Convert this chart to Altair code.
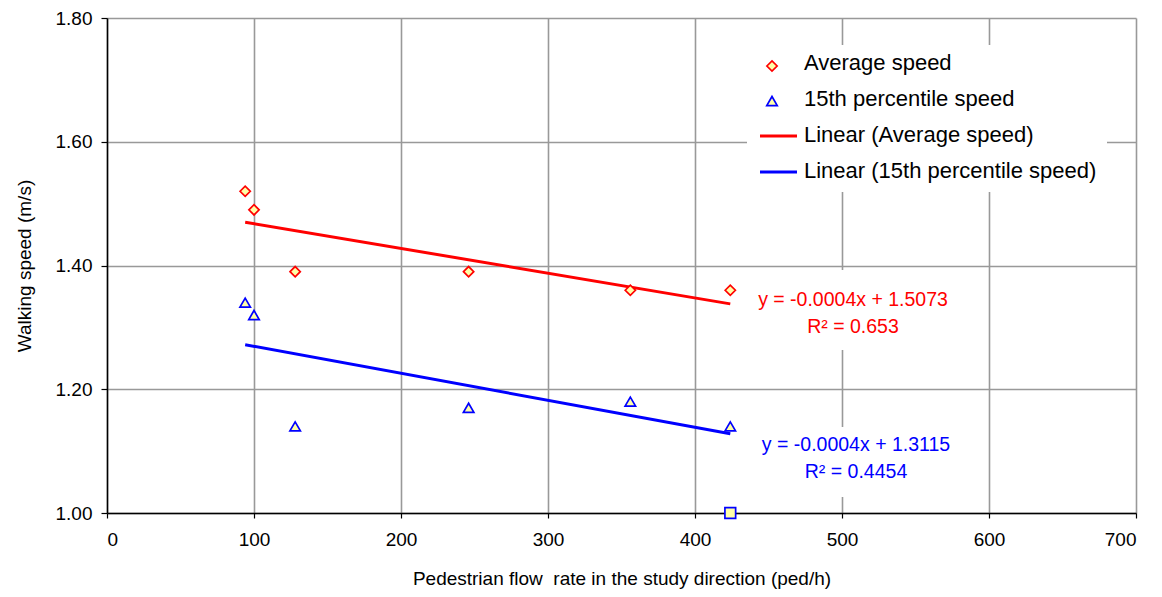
import altair as alt
import pandas as pd

# ---- data ----
flow = [94, 100, 128, 246, 356, 424]
avg_speed = [1.52, 1.49, 1.39, 1.39, 1.36, 1.36]
p15_speed = [1.34, 1.32, 1.14, 1.17, 1.18, 1.14]

trend_x = [94, 424]
avg_trend_y = [1.470, 1.338]
p15_trend_y = [1.272, 1.128]

extra_x = [424]
extra_y = [1.00]

x_ticks = [0, 100, 200, 300, 400, 500, 600, 700]
y_ticks = [1.0, 1.2, 1.4, 1.6, 1.8]

legend_labels = ["Average speed", "15th percentile speed",
                 "Linear (Average speed)", "Linear (15th percentile speed)"]
eq_avg = ["y = -0.0004x + 1.5073", "R\u00b2 = 0.653"]
eq_p15 = ["y = -0.0004x + 1.3115", "R\u00b2 = 0.4454"]

FONT = "Liberation Sans"
RED = "#FF0000"
BLUE = "#0000FF"
FILL = "#FFFFA8"

W, H = 1029, 495

xs = alt.Scale(domain=[0, 700], nice=False, zero=False)
ys = alt.Scale(domain=[1.0, 1.8], nice=False, zero=False)

pts = pd.DataFrame({"flow": flow, "avg": avg_speed, "p15": p15_speed})
trend = pd.DataFrame({"x": trend_x, "a": avg_trend_y, "b": p15_trend_y})
extra = pd.DataFrame({"x": extra_x, "y": extra_y})

xaxis = alt.Axis(values=x_ticks, title="Pedestrian flow\u00a0 rate in the study direction (ped/h)",
                 grid=True, tickSize=5, labelPadding=12, titlePadding=20)
yaxis = alt.Axis(values=y_ticks, format=".2f", title="Walking speed (m/s)",
                 grid=True, tickSize=6, labelPadding=9, titlePadding=21)

base_x = alt.X("x:Q", scale=xs, axis=xaxis)

avg_line = alt.Chart(trend).mark_line(color=RED, strokeWidth=3).encode(
    x=base_x, y=alt.Y("a:Q", scale=ys, axis=yaxis))
p15_line = alt.Chart(trend).mark_line(color=BLUE, strokeWidth=3).encode(
    x=alt.X("x:Q", scale=xs), y=alt.Y("b:Q", scale=ys))

avg_pts = alt.Chart(pts).mark_point(shape="diamond", size=105, filled=True, fill=FILL,
                                    stroke=RED, strokeWidth=1.7, opacity=1).encode(
    x=alt.X("flow:Q", scale=xs), y=alt.Y("avg:Q", scale=ys))
p15_pts = alt.Chart(pts).mark_point(shape="triangle-up", size=110, filled=True, fill=FILL,
                                    stroke=BLUE, strokeWidth=1.7, opacity=1).encode(
    x=alt.X("flow:Q", scale=xs), y=alt.Y("p15:Q", scale=ys))
extra_pt = alt.Chart(extra).mark_point(shape="square", size=115, filled=True, fill=FILL,
                                       stroke=BLUE, strokeWidth=1.7, opacity=1).encode(
    x=alt.X("x:Q", scale=xs), y=alt.Y("y:Q", scale=ys))

one = alt.Data(values=[{}])
layers = []

# white boxes behind legend and equation labels
for (x1, x2, y1, y2) in [(747 - 107, 1107 - 107, 45 - 18, 192 - 18),
                         (752 - 107, 955 - 107, 270 - 18, 350 - 18),
                         (752 - 107, 960 - 107, 427 - 18, 497 - 18)]:
    layers.append(alt.Chart(one).mark_rect(color="white").encode(
        x=alt.value(x1), x2=alt.value(x2), y=alt.value(y1), y2=alt.value(y2)))

# legend
lx_sym, lx_text = 772 - 107, 804 - 107
ly = [63 - 18, 99 - 18, 135 - 18, 171 - 18]
layers.append(alt.Chart(one).mark_point(shape="diamond", size=105, filled=True, fill=FILL,
                                        stroke=RED, strokeWidth=1.7, opacity=1).encode(
    x=alt.value(lx_sym), y=alt.value(ly[0] + 3)))
layers.append(alt.Chart(one).mark_point(shape="triangle-up", size=110, filled=True, fill=FILL,
                                        stroke=BLUE, strokeWidth=1.7, opacity=1).encode(
    x=alt.value(lx_sym), y=alt.value(ly[1] + 2)))
layers.append(alt.Chart(one).mark_rule(color=RED, strokeWidth=3).encode(
    x=alt.value(760 - 107), x2=alt.value(797 - 107), y=alt.value(ly[2] + 1)))
layers.append(alt.Chart(one).mark_rule(color=BLUE, strokeWidth=3).encode(
    x=alt.value(760 - 107), x2=alt.value(797 - 107), y=alt.value(ly[3] + 1)))
for i, lab in enumerate(legend_labels):
    layers.append(alt.Chart(one).mark_text(font=FONT, fontSize=22, align="left",
                                           baseline="middle", color="black").encode(
        x=alt.value(lx_text), y=alt.value(ly[i]), text=alt.value(lab)))

# equations
for lines, col, cx, cy in [(eq_avg, RED, 853 - 107, 300 - 18), (eq_p15, BLUE, 856 - 107, 445 - 18)]:
    for j, t in enumerate(lines):
        layers.append(alt.Chart(one).mark_text(font=FONT, fontSize=19.5, align="center",
                                               baseline="middle", color=col).encode(
            x=alt.value(cx), y=alt.value(cy + j * 27), text=alt.value(t)))

chart = alt.layer(avg_line, p15_line, *layers, avg_pts, p15_pts, extra_pt).properties(
    width=W, height=H,
    autosize=alt.AutoSizeParams(type="none"),
    padding={"left": 107, "top": 18, "right": 26, "bottom": 84},
    background="white",
).configure_view(stroke=None).configure_axis(
    labelFont=FONT, titleFont=FONT, labelFontSize=19, titleFontSize=19,
    labelColor="black", titleColor="black", titleFontWeight="normal",
    domainColor="black", domainWidth=1.5, tickColor="black", tickWidth=1.2,
    gridColor="#999999", gridWidth=1.6, gridOpacity=1,
)

chart.save("out.html", embed_options={"renderer": "svg", "actions": False})
